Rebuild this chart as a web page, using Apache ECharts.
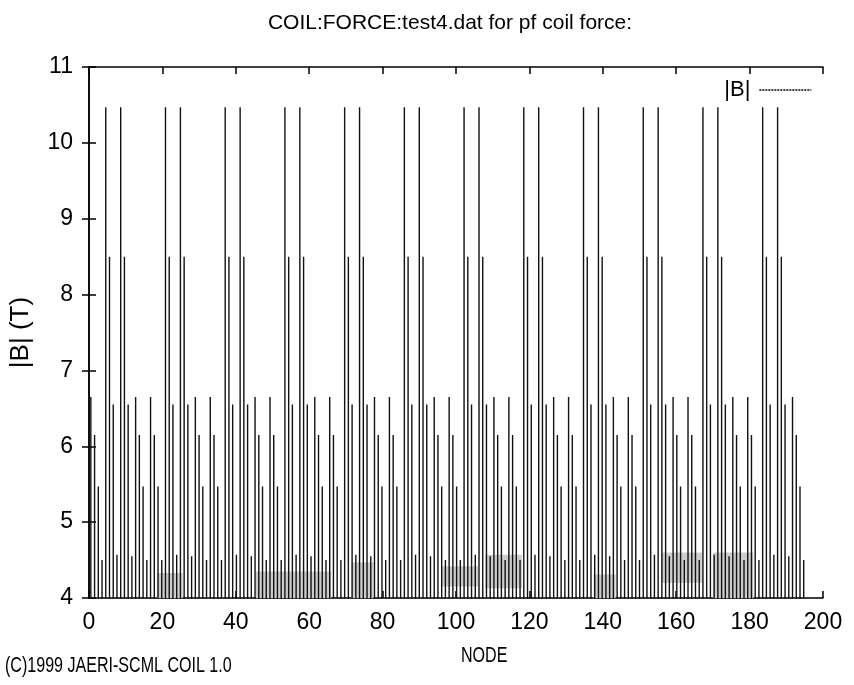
<!DOCTYPE html>
<html>
<head>
<meta charset="utf-8">
<script src="https://cdn.jsdelivr.net/npm/echarts@6/dist/echarts.min.js"></script>
<style>
  html, body { margin: 0; padding: 0; background: #fff; }
  #chart { width: 854px; height: 685px; }
</style>
</head>
<body>
<div id="chart"></div>
<script>
// |B| along the pf coil nodes: 12 coils of 16 nodes each, peak field per node (T)
const firstNodeX = 0.5;   // position of the first node on the NODE axis
const nodePitch = 1.017;  // spacing between consecutive nodes on the NODE axis
const peakB = [
  // coil 1
  6.65, 6.15, 5.47, 4.50, 10.47, 8.50, 6.55, 4.57, 10.47, 8.50, 6.55, 4.55, 6.65, 6.15, 5.47, 4.50,
  // coil 2
  6.65, 6.15, 5.47, 4.50, 10.47, 8.50, 6.55, 4.57, 10.47, 8.50, 6.55, 4.55, 6.65, 6.15, 5.47, 4.50,
  // coil 3
  6.65, 6.15, 5.47, 4.50, 10.47, 8.50, 6.55, 4.57, 10.47, 8.50, 6.55, 4.55, 6.65, 6.15, 5.47, 4.50,
  // coil 4
  6.65, 6.15, 5.47, 4.50, 10.47, 8.50, 6.55, 4.57, 10.47, 8.50, 6.55, 4.55, 6.65, 6.15, 5.47, 4.50,
  // coil 5
  6.65, 6.15, 5.47, 4.50, 10.47, 8.50, 6.55, 4.57, 10.47, 8.50, 6.55, 4.55, 6.65, 6.15, 5.47, 4.50,
  // coil 6
  6.65, 6.15, 5.47, 4.50, 10.47, 8.50, 6.55, 4.57, 10.47, 8.50, 6.55, 4.55, 6.65, 6.15, 5.47, 4.50,
  // coil 7
  6.65, 6.15, 5.47, 4.50, 10.47, 8.50, 6.55, 4.57, 10.47, 8.50, 6.55, 4.55, 6.65, 6.15, 5.47, 4.50,
  // coil 8
  6.65, 6.15, 5.47, 4.50, 10.47, 8.50, 6.55, 4.57, 10.47, 8.50, 6.55, 4.55, 6.65, 6.15, 5.47, 4.50,
  // coil 9
  6.65, 6.15, 5.47, 4.50, 10.47, 8.50, 6.55, 4.57, 10.47, 8.50, 6.55, 4.55, 6.65, 6.15, 5.47, 4.50,
  // coil 10
  6.65, 6.15, 5.47, 4.50, 10.47, 8.50, 6.55, 4.57, 10.47, 8.50, 6.55, 4.55, 6.65, 6.15, 5.47, 4.50,
  // coil 11
  6.65, 6.15, 5.47, 4.50, 10.47, 8.50, 6.55, 4.57, 10.47, 8.50, 6.55, 4.55, 6.65, 6.15, 5.47, 4.50,
  // coil 12
  6.65, 6.15, 5.47, 4.50, 10.47, 8.50, 6.55, 4.57, 10.47, 8.50, 6.55, 4.55, 6.65, 6.15, 5.47, 4.50
];
// low-field bands where the between-node traces stay above 4 T (NODE range, |B| range)
const bandFrom = [18.5, 45.5, 71.5, 96.0, 108.0, 137.5, 156.0, 170.0];
const bandTo   = [25.5, 66.0, 77.5, 106.0, 118.0, 143.5, 167.0, 181.0];
const bandLow  = [4.00, 4.00, 4.00, 4.15, 4.13, 4.00, 4.20, 4.00];
const bandHigh = [4.33, 4.35, 4.47, 4.42, 4.57, 4.31, 4.60, 4.60];

const xTicks = [0, 20, 40, 60, 80, 100, 120, 140, 160, 180, 200];
const yTicks = [4, 5, 6, 7, 8, 9, 10, 11];
const floorB = 3;

// each node is drawn as a vertical trace from below the axis up to its peak and back
const traceData = [];
peakB.forEach((v, i) => {
  const x = firstNodeX + i * nodePitch;
  traceData.push([x, floorB], [x, v], [x, floorB]);
});

const bandAreas = bandFrom.map((f, k) => [
  { coord: [f, bandLow[k]] },
  { coord: [bandTo[k], bandHigh[k]] }
]);

const font = '"Liberation Sans", Arial, sans-serif';
const chart = echarts.init(document.getElementById('chart'), null, { renderer: 'canvas' });

const axisCommon = {
  type: 'value',
  axisLine: { show: true, lineStyle: { color: '#000', width: 1.5 } },
  axisTick: { show: true, inside: true, length: 7, lineStyle: { color: '#000', width: 1.5 } },
  splitLine: { show: false }
};

chart.setOption({
  animation: false,
  backgroundColor: '#fff',
  color: ['#000'],
  title: {
    text: 'COIL:FORCE:test4.dat for pf coil force:',
    left: 445, top: 8, textAlign: 'center',
    textStyle: { fontFamily: font, fontSize: 21, fontWeight: 'normal', color: '#000' }
  },
  grid: { left: 87, right: 31, top: 67, bottom: 87, containLabel: false },
  legend: {
    right: 37, top: 74, align: 'right',
    itemWidth: 52, itemHeight: 14, itemGap: 0,
    data: ['|B|'],
    itemStyle: { opacity: 0 },
    lineStyle: { color: '#000', width: 1.3, type: [2, 1] },
    textStyle: { fontFamily: font, fontSize: 22, color: '#000', padding: [0, 4, 0, 0] }
  },
  xAxis: [
    Object.assign({}, axisCommon, {
      min: xTicks[0], max: xTicks[xTicks.length - 1], interval: 20,
      axisLabel: { margin: 13, fontFamily: font, fontSize: 23, color: '#000' }
    }),
    Object.assign({}, axisCommon, {
      position: 'top', min: xTicks[0], max: xTicks[xTicks.length - 1], interval: 20,
      axisLabel: { show: false }
    })
  ],
  yAxis: [
    Object.assign({}, axisCommon, {
      min: yTicks[0], max: yTicks[yTicks.length - 1], interval: 1,
      name: '|B| (T)', nameLocation: 'middle', nameGap: 55, nameRotate: 90,
      nameTextStyle: { fontFamily: font, fontSize: 26, color: '#000' },
      axisLabel: { margin: 16, fontFamily: font, fontSize: 23, color: '#000' }
    }),
    Object.assign({}, axisCommon, {
      position: 'right', min: yTicks[0], max: yTicks[yTicks.length - 1], interval: 1,
      axisLabel: { show: false }
    })
  ],
  series: [
    {
      name: 'bands', type: 'line', data: [], z: 1, silent: true,
      markArea: {
        silent: true,
        itemStyle: { color: '#cdcdcd', opacity: 1 },
        data: bandAreas
      }
    },
    {
      name: '|B|', type: 'line', data: traceData, z: 3,
      symbol: 'none', clip: true,
      itemStyle: { color: '#000' },
      lineStyle: { color: '#111', width: 1.4, type: 'solid' }
    }
  ],
  graphic: [
    { type: 'text', left: 5, top: 655, scaleX: 0.73,
      style: { text: '(C)1999 JAERI-SCML COIL 1.0', fontFamily: font, fontSize: 22, fill: '#000' } },
    { type: 'text', left: 461, top: 645, scaleX: 0.73,
      style: { text: 'NODE', fontFamily: font, fontSize: 22, fill: '#000' } }
  ]
});
</script>
</body>
</html>
